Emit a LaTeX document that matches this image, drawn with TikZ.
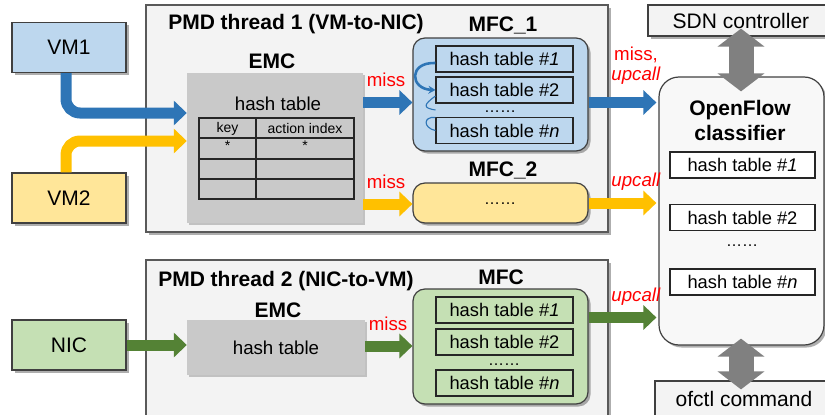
\documentclass[tikz,border=0pt]{standalone}
\usepackage{fontspec}
\setmainfont{Liberation Sans}
\usetikzlibrary{arrows.meta,shadows,calc}
\definecolor{blueA}{HTML}{2E75B6}
\definecolor{yellowA}{HTML}{FFC000}
\definecolor{greenA}{HTML}{548235}
\definecolor{lblue}{HTML}{BDD7EE}
\definecolor{lyellow}{HTML}{FFE699}
\definecolor{lgreen}{HTML}{C5E0B4}
\definecolor{panel}{HTML}{F3F3F3}
\definecolor{emcgray}{HTML}{C9C9C9}
\definecolor{bord}{HTML}{404040}
\definecolor{grayA}{HTML}{808080}
\newcommand\fbig{\fontsize{21}{24}\selectfont}
\newcommand\fmid{\fontsize{18.7}{22}\selectfont}
\newcommand\fht{\fontsize{18.3}{21}\selectfont}
\newcommand\fsm{\fontsize{14}{16}\selectfont}
\newcommand\fdots{\fontsize{16}{16}\selectfont}
\newcommand\mydots{……}
\tikzset{
  shd/.style={drop shadow={shadow xshift=2.5pt,shadow yshift=-2.5pt,opacity=0.45,fill=black!70}},
  boxA/.style={draw=bord,line width=1.2pt,inner sep=0pt,shd},
  panelbox/.style={draw=black!65,line width=1.2pt,fill=panel,inner sep=0pt,shd},
  emcbox/.style={fill=emcgray,inner sep=0pt,drop shadow={shadow xshift=2pt,shadow yshift=-2pt,opacity=0.35,fill=black!60}},
  mfcbox/.style={draw=bord,line width=1.2pt,rounded corners=12pt,inner sep=0pt,shd},
  htbox/.style={draw=black!85,line width=1.1pt,minimum width=137pt,minimum height=26pt,inner sep=0pt,font=\fht},
  fat/.style={line width=11pt,-{Triangle[width=24pt,length=13pt]}},
  dbl/.style={line width=25pt,draw=grayA,{Triangle[width=46pt,length=18pt]}-{Triangle[width=46pt,length=18pt]}},
  ttl/.style={font=\fbig\bfseries,inner sep=0pt},
  lbl/.style={font=\fmid,text=red,inner sep=0pt},
  dotsn/.style={font=\fdots,inner sep=0pt,text height=2pt,text depth=0pt}
}
\begin{document}
\begin{tikzpicture}[x=1pt,y=-1pt]
\useasboundingbox (0,0) rectangle (825,415);
\clip (0,0) rectangle (825,415);
% panels
\node[panelbox,minimum width=462pt,minimum height=227pt] (T1) at (377,118.5) {};
\node[panelbox,minimum width=462pt,minimum height=175pt] (T2) at (377,347.5) {};
\node[ttl] (T1t) at (296,24.5) {PMD thread 1 (VM-to-NIC)};
\node[ttl] (T2t) at (286,281) {PMD thread 2 (NIC-to-VM)};
% sources
\node[boxA,fill=lblue,minimum width=114pt,minimum height=50pt,font=\fbig] (VM1) at (69,47.5) {VM1};
\node[boxA,fill=lyellow,minimum width=114pt,minimum height=50pt,font=\fbig] (VM2) at (69,198) {VM2};
\node[boxA,fill=lgreen,minimum width=114pt,minimum height=50pt,font=\fbig] (NIC) at (69,345) {NIC};
% EMC 1
\node[ttl] (E1t) at (272,61) {EMC};
\node[emcbox,minimum width=176pt,minimum height=150pt] (EMC1) at (275,148) {};
\node[font=\fmid,inner sep=0pt] (E1h) at (278,104) {hash table};
\draw[line width=1.1pt,black!85] (199,118) rectangle (354,199);
\draw[line width=1.1pt,black!85] (199,138) -- (354,138) (199,159) -- (354,159) (199,179) -- (354,179) (256,118) -- (256,199);
\node[font=\fsm,inner sep=0pt] (K) at (227.5,128.5) {key};
\node[font=\fsm,inner sep=0pt] (A) at (305,128.5) {action index};
\node[font=\fsm,inner sep=0pt] (S1) at (227.5,146) {*};
\node[font=\fsm,inner sep=0pt] (S2) at (305,146) {*};
% EMC 2
\node[ttl] (E2t) at (278,310) {EMC};
\node[emcbox,minimum width=178pt,minimum height=55pt,font=\fmid] (EMC2) at (276,347.5) {hash table};
% MFC 1
\node[ttl] (M1t) at (503,25) {MFC\_1};
\node[mfcbox,fill=lblue,minimum width=175pt,minimum height=113pt] (MFC1) at (500.5,94.5) {};
\node[htbox] (h11) at (504.5,59) {hash table \#\textit{1}};
\node[htbox] (h12) at (504.5,90) {hash table \#2};
\node[dotsn] (d1) at (500,111) {\mydots};
\node[htbox] (h1n) at (504.5,130.5) {hash table \#\textit{n}};
\draw[blueA,line width=2.6pt,-{Stealth[length=7pt,width=8pt]}] ($(h11.west)+(0,4)$) .. controls (408,62) and (410,89) .. (h12.west);
\draw[blueA,line width=1.1pt] ($(h12.west)+(0,6)$) .. controls (423,105) and (423,108) .. ($(h12.west)+(0,20)$);
\draw[blueA,line width=1.1pt] ($(h1n.west)+(0,-13)$) .. controls (423,116) and (423,128) .. ($(h1n.west)+(0,0)$);
% MFC 2
\node[ttl] (M2t) at (503,170) {MFC\_2};
\node[mfcbox,fill=lyellow,minimum width=175pt,minimum height=40pt] (MFC2) at (500.5,203) {};
\node[dotsn] (d2) at (500,203) {\mydots};
% MFC 3
\node[ttl] (M3t) at (501,277) {MFC};
\node[mfcbox,fill=lgreen,minimum width=175pt,minimum height=115pt] (MFC3) at (500.5,346.5) {};
\node[htbox] (h31) at (504.5,310) {hash table \#\textit{1}};
\node[htbox] (h32) at (504.5,342) {hash table \#2};
\node[dotsn] (d3) at (504,364) {\mydots};
\node[htbox] (h3n) at (504.5,383) {hash table \#\textit{n}};
% right side
\node[boxA,fill=panel,minimum width=187pt,minimum height=31pt] (SDN) at (741.5,20.5) {};
\node[font=\fbig,inner sep=0pt] (SDNt) at (741,21) {SDN controller};
\node[boxA,fill=panel,minimum width=175pt,minimum height=48pt] (OFT) at (742.5,405) {};
\node[font=\fbig,inner sep=0pt] (OFTt) at (744,399) {ofctl command};
\node[draw=bord,line width=1.2pt,fill=panel!60!white,rounded corners=20pt,minimum width=165pt,minimum height=268pt,inner sep=0pt,shd] (OFC) at (741.5,211) {};
\node[font=\fbig\bfseries,inner sep=0pt,align=center] (OFCt) at (740,120) {OpenFlow\\[1pt]classifier};
\node[htbox,fill=white,minimum width=145pt] (c1) at (742.5,165) {hash table \#\textit{1}};
\node[htbox,fill=white,minimum width=145pt] (c2) at (742.5,217.5) {hash table \#2};
\node[dotsn] (c3) at (742,245) {\mydots};
\node[htbox,fill=white,minimum width=145pt] (cn) at (742.5,282) {hash table \#\textit{n}};
% input arrows
\draw[fat,blueA,rounded corners=14pt] ($(VM1.south)+(-3,0)$) |- (EMC1.west |- 0,113);
\draw[fat,yellowA,rounded corners=14pt] ($(VM2.north)+(-3,0)$) |- (EMC1.west |- 0,141);
\draw[fat,greenA] (NIC.east) -- (EMC2.west |- NIC.east);
% miss arrows
\draw[fat,blueA] (EMC1.east |- 0,102.5) -- (MFC1.west |- 0,102.5);
\draw[fat,yellowA] (EMC1.east |- 0,204) -- (MFC2.west |- 0,204);
\draw[fat,greenA] (EMC2.east |- 0,346) -- (MFC3.west |- 0,346);
\node[lbl] (m1) at (386,80) {miss};
\node[lbl] (m2) at (386,182) {miss};
\node[lbl] (m3) at (388,324) {miss};
% upcall arrows
\draw[fat,blueA] (MFC1.east |- 0,102.5) -- ($(OFC.west |- 0,102.5)+(-2,0)$);
\draw[fat,yellowA] (MFC2.east |- 0,203) -- ($(OFC.west |- 0,203)+(-2,0)$);
\draw[fat,greenA] (MFC3.east |- 0,317.5) -- ($(OFC.west |- 0,317.5)+(-2,0)$);
\node[lbl,align=center] (u1) at (636,66) {miss,\\[-2pt]\textit{upcall}};
\node[lbl] (u2) at (636,182) {\textit{upcall}};
\node[lbl] (u3) at (636,297) {\textit{upcall}};
% gray double arrows
\draw[dbl] ($(SDN.south)+(-0.5,-8)$) -- ($(OFC.north)+(-0.5,15)$);
\draw[dbl] ($(OFC.south)+(-0.5,-7)$) -- ($(OFT.north)+(-1.5,9)$);
\end{tikzpicture}
\end{document}
